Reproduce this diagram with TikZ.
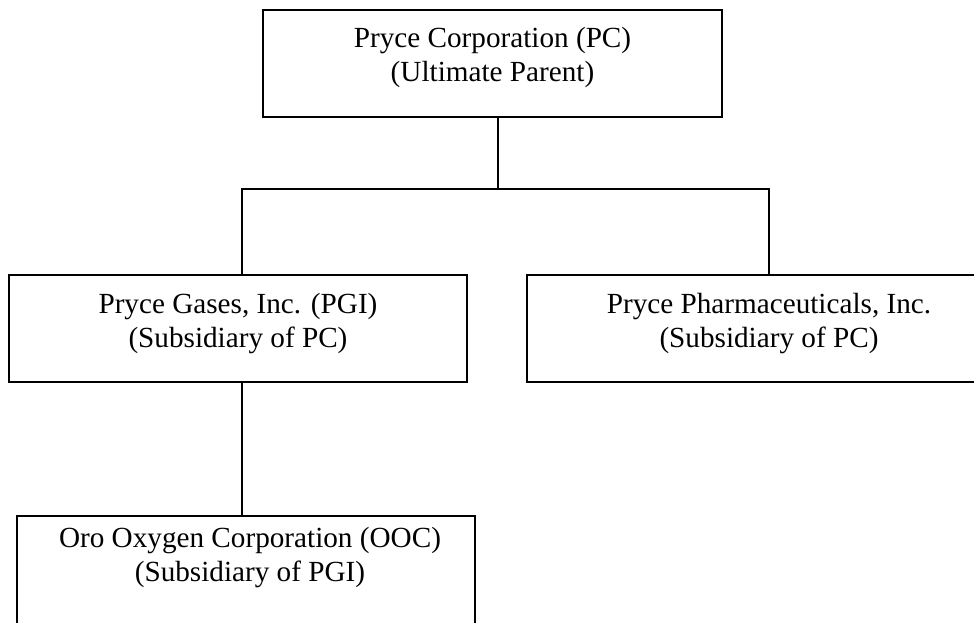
\documentclass[tikz,border=0pt]{standalone}
\usepackage{fontspec}
\setmainfont{Liberation Serif}
\begin{document}
\begin{tikzpicture}[x=1pt,y=-1pt,
  box/.style={draw=black,line width=1.8pt,rectangle,inner sep=0pt,fill=none},
  conn/.style={draw=black,line width=1.5pt},
  txt/.style={inner sep=0pt,align=center,anchor=base,font=\fontsize{29.2}{34.5}\selectfont}]
\useasboundingbox (0,0) rectangle (974,622);
% boxes
\node[box,minimum width=459pt,minimum height=107pt] (pc) at (492.5,63.5) {};
\node[box,minimum width=458pt,minimum height=107pt] (pgi) at (238,328.5) {};
\node[box,minimum width=484pt,minimum height=107pt] (ppi) at (769,328.5) {};
\node[box,minimum width=458pt,minimum height=110pt] (ooc) at (246,571) {};
% texts (base anchor = baseline of the last line)
\node[txt] (pct) at (492.5,81.5) {Pryce Corporation (PC)\\(Ultimate Parent)};
\node[txt] (pgit) at (238,347.5) {Pryce Gases, Inc. (PGI)\\(Subsidiary of PC)};
\node[txt] (ppit) at (769,347.5) {Pryce Pharmaceuticals, Inc.\\(Subsidiary of PC)};
\node[txt] (ooct) at (250,581.5) {Oro Oxygen Corporation (OOC)\\(Subsidiary of PGI)};
% connectors
\coordinate (jc) at (498,189);
\coordinate (jl) at (242,189);
\coordinate (jr) at (769,189);
\draw[conn] (pc.south -| jc) -- (jc);
\draw[conn] (pgi.north -| jl) -- (jl) -- (jr) -- (ppi.north -| jr);
\draw[conn] (pgi.south -| jl) -- (ooc.north -| jl);
\end{tikzpicture}
\end{document}
